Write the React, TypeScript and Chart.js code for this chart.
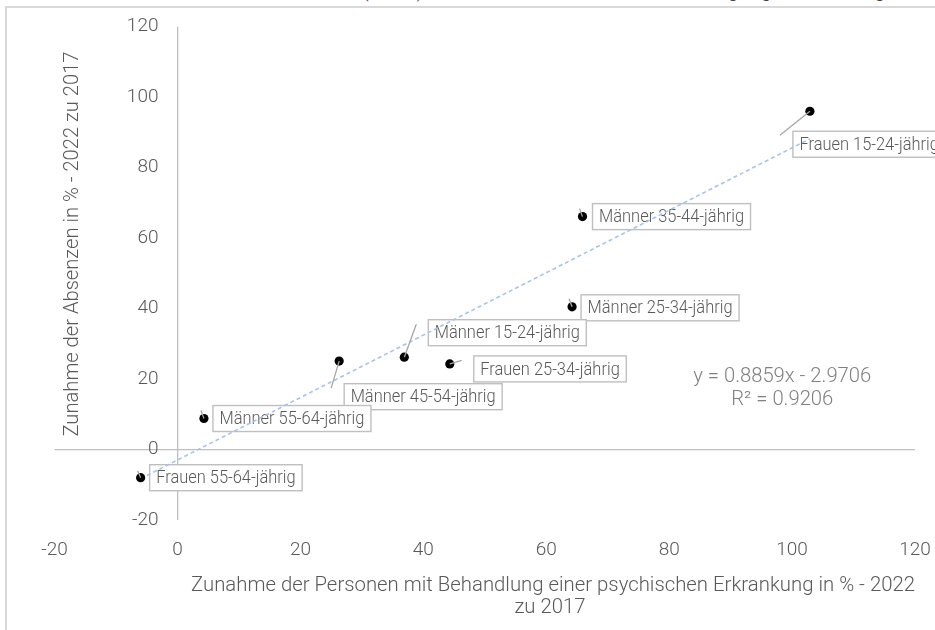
import React, { useEffect, useRef } from 'react';
import { Chart, registerables } from 'chart.js';

Chart.register(...registerables);

// ---- data ----
const groups = [
  'Frauen 15-24-jährig',
  'Männer 35-44-jährig',
  'Männer 25-34-jährig',
  'Männer 15-24-jährig',
  'Männer 45-54-jährig',
  'Frauen 25-34-jährig',
  'Männer 55-64-jährig',
  'Frauen 55-64-jährig',
];
const personsIncrease = [102.9, 65.9, 64.2, 36.9, 26.3, 44.3, 4.3, -6.0];
const absencesIncrease = [96.0, 66.1, 40.5, 26.2, 25.1, 24.3, 8.8, -8.0];
const trendSlope = 0.8859;
const trendIntercept = -2.9706;
const rSquared = 0.9206;
const axisMin = -20;
const axisMax = 120;
const axisStep = 20;

const xTitleLines = [
  'Zunahme der Personen mit Behandlung einer psychischen Erkrankung in % - 2022',
  'zu 2017',
];
const yTitle = 'Zunahme der Absenzen in % - 2022 zu 2017';
const sourceText =
  'Quelle: BFS – Arbeitsvolumenstatistik (AVOL), Schweizerische Gesundheitsbefragung, Berechnungen Obsan';

// ---- label placement (pixel offsets from each point; styling only) ----
const labelPlacement = [
  { dx: -17, dy: 20, lx: -30, ly: 24 },
  { dx: 10, dy: -13, lx: -3, ly: -8 },
  { dx: 9, dy: -12, lx: -3, ly: -8 },
  { dx: 24, dy: -37.5, lx: 12, ly: -33 },
  { dx: 5, dy: 22.6, lx: -8, ly: 27 },
  { dx: 24, dy: -8, lx: 12, ly: -3.5 },
  { dx: 9, dy: -13, lx: -3, ly: -8 },
  { dx: 9, dy: -13, lx: -3, ly: -7 },
];

const FONT = 'Roboto, "Noto Sans", sans-serif';
const TEXT_GREY = '#595959';

function measure(ctx: CanvasRenderingContext2D, text: string, size: number) {
  ctx.font = `300 ${size}px ${FONT}`;
  return ctx.measureText(text).width;
}

// Roboto Light drawn horizontally squeezed (approximates a condensed face)
function condensedText(
  ctx: CanvasRenderingContext2D,
  text: string,
  x: number,
  y: number,
  size: number,
  sx: number,
  align: CanvasTextAlign
) {
  ctx.save();
  ctx.font = `300 ${size}px ${FONT}`;
  ctx.textAlign = align;
  ctx.textBaseline = 'middle';
  ctx.translate(x, y);
  ctx.scale(sx, 1);
  ctx.fillText(text, 0, 0);
  ctx.restore();
}

const LABEL_SIZE = 18.5;

const annotationPlugin = {
  id: 'annotations',
  beforeDatasetsDraw(chart: any) {
    const ctx = chart.ctx;
    const meta = chart.getDatasetMeta(0);
    ctx.save();
    const sx = 145 / measure(ctx, groups[1], LABEL_SIZE);
    meta.data.forEach((pt: any, i: number) => {
      const o = labelPlacement[i];
      const w = measure(ctx, groups[i], LABEL_SIZE) * sx + 13;
      const h = 26;
      const x = pt.x + o.dx;
      const y = pt.y + o.dy;
      ctx.fillStyle = '#ffffff';
      ctx.fillRect(x, y, w, h);
      ctx.strokeStyle = '#bfbfbf';
      ctx.lineWidth = 1.4;
      ctx.strokeRect(x, y, w, h);
      ctx.fillStyle = TEXT_GREY;
      condensedText(ctx, groups[i], x + 6.5, y + h / 2 + 1, LABEL_SIZE, sx, 'left');
    });
    ctx.restore();
  },
  afterDatasetsDraw(chart: any) {
    const ctx = chart.ctx;
    const meta = chart.getDatasetMeta(0);
    ctx.save();
    ctx.strokeStyle = '#a6a6a6';
    ctx.lineWidth = 1.3;
    meta.data.forEach((pt: any, i: number) => {
      const o = labelPlacement[i];
      ctx.beginPath();
      ctx.moveTo(pt.x, pt.y);
      ctx.lineTo(pt.x + o.lx, pt.y + o.ly);
      ctx.stroke();
    });
    ctx.restore();
  },
  afterDraw(chart: any) {
    const ctx = chart.ctx;
    const xs = chart.scales.x;
    const ys = chart.scales.y;
    ctx.save();
    // equation
    ctx.fillStyle = '#808080';
    ctx.textAlign = 'center';
    ctx.textBaseline = 'middle';
    const eq1 = `y = ${trendSlope.toFixed(4)}x - ${Math.abs(trendIntercept).toFixed(4)}`;
    const eqSize = (100 * 178) / measure(ctx, eq1, 100);
    ctx.font = `300 ${eqSize}px ${FONT}`;
    const eqX = xs.getPixelForValue(98.4);
    const eqY = ys.getPixelForValue(20.7);
    ctx.fillText(eq1, eqX, eqY);
    ctx.fillText(`R² = ${rSquared.toFixed(4)}`, eqX, eqY + 23.7);

    // axis titles
    ctx.fillStyle = TEXT_GREY;
    const TITLE_SIZE = 21;
    const sxX = 724 / measure(ctx, xTitleLines[0], TITLE_SIZE);
    condensedText(ctx, xTitleLines[0], 553, 586, TITLE_SIZE, sxX, 'center');
    condensedText(ctx, xTitleLines[1], 550, 608, TITLE_SIZE, sxX, 'center');

    const sxY = 385 / measure(ctx, yTitle, TITLE_SIZE);
    ctx.translate(73, 244);
    ctx.rotate(-Math.PI / 2);
    condensedText(ctx, yTitle, 0, 0, TITLE_SIZE, sxY, 'center');
    ctx.restore();
  },
};

export default function App() {
  const canvasRef = useRef<HTMLCanvasElement | null>(null);

  useEffect(() => {
    if (!canvasRef.current) return;
    const minX = Math.min(...personsIncrease);
    const maxX = Math.max(...personsIncrease);
    const tickFont = { family: FONT, size: 19, weight: '300' as any };
    const chart = new Chart(canvasRef.current, {
      type: 'scatter',
      data: {
        datasets: [
          {
            label: 'Gruppen',
            data: personsIncrease.map((x, i) => ({ x, y: absencesIncrease[i] })),
            backgroundColor: '#000000',
            borderColor: '#000000',
            pointRadius: 4.6,
            pointHoverRadius: 4.6,
            borderWidth: 0,
          },
          {
            label: 'Trend',
            data: [
              { x: minX, y: trendSlope * minX + trendIntercept },
              { x: maxX, y: trendSlope * maxX + trendIntercept },
            ],
            showLine: true,
            borderColor: '#a9c2ea',
            borderWidth: 1.6,
            borderDash: [4, 3],
            pointRadius: 0,
            fill: false,
          } as any,
        ],
      },
      options: {
        animation: false,
        responsive: false,
        maintainAspectRatio: false,
        layout: { padding: { left: 54.6, right: 20, top: 26.7, bottom: 54 } },
        plugins: {
          legend: { display: false },
          tooltip: { enabled: false },
          title: { display: false },
        },
        scales: {
          x: {
            type: 'linear',
            position: 'bottom',
            min: axisMin,
            max: axisMax,
            afterFit: (s: any) => {
              s.height = 56;
              s.paddingLeft = 0;
              s.paddingRight = 0;
            },
            ticks: {
              stepSize: axisStep,
              color: TEXT_GREY,
              font: tickFont,
              padding: 19,
            },
            grid: {
              drawTicks: false,
              color: (c: any) => (c.tick && c.tick.value === 0 ? '#bfbfbf' : 'rgba(0,0,0,0)'),
              lineWidth: 1.3,
            },
            border: { display: false },
          },
          y: {
            type: 'linear',
            // tick labels sit just left of the vertical zero line
            position: { x: -3.1 } as any,
            min: axisMin,
            max: axisMax,
            afterFit: (s: any) => {
              s.width = 0;
            },
            ticks: {
              stepSize: axisStep,
              color: TEXT_GREY,
              font: tickFont,
            },
            grid: {
              drawTicks: false,
              color: (c: any) => (c.tick && c.tick.value === 0 ? '#bfbfbf' : 'rgba(0,0,0,0)'),
              lineWidth: 1.3,
            },
            border: { display: false },
          },
        },
      },
      plugins: [annotationPlugin],
    });
    return () => chart.destroy();
  }, []);

  return (
    <div
      style={{
        position: 'fixed',
        left: 0,
        top: 0,
        width: 935,
        height: 630,
        overflow: 'hidden',
        background: '#ffffff',
      }}
    >
      <div
        style={{
          position: 'absolute',
          left: 30,
          top: -21,
          whiteSpace: 'nowrap',
          fontFamily: FONT,
          fontWeight: 300,
          fontSize: 20,
          lineHeight: '22px',
          color: '#404040',
        }}
      >
        {sourceText}
      </div>
      <div
        style={{
          position: 'absolute',
          left: 5,
          top: 6,
          width: 1000,
          height: 700,
          border: '2px solid #d9d9d9',
        }}
      />
      <canvas
        ref={canvasRef}
        width={935}
        height={630}
        style={{ position: 'absolute', left: 0, top: 0, width: 935, height: 630 }}
      />
    </div>
  );
}
